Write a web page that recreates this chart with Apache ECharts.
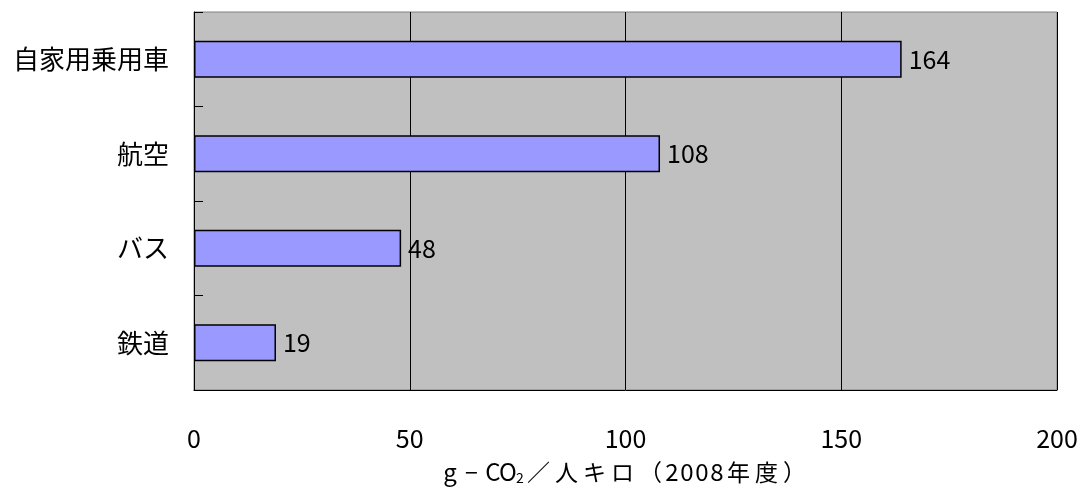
<!DOCTYPE html>
<html>
<head>
<meta charset="utf-8">
<script src="https://cdn.jsdelivr.net/npm/echarts@6/dist/echarts.min.js"></script>
<style>
  html, body { margin: 0; padding: 0; background: #fff; }
  #chart { width: 1080px; height: 490px; }
</style>
</head>
<body>
<div id="chart"></div>
<script>
// data
const categories = ['自家用乗用車', '航空', 'バス', '鉄道']
const values = [164, 108, 48, 19]
const xTicks = [0, 50, 100, 150, 200]

const font = '"Noto Sans CJK JP", "Noto Sans", sans-serif'

// axis title drawn in fixed-pitch cells, like the original gothic font
function mono(str) {
  return Array.from(str).map(c => (c.charCodeAt(0) > 0xff ? '{f|' + c + '}' : '{h|' + c + '}')).join('')
}
const axisTitle = mono('g−CO') + '{s|2}' + mono('／人キロ（2008年度）')

const chart = echarts.init(document.getElementById('chart'), null, { renderer: 'canvas' })

chart.setOption({
  animation: false,
  textStyle: { fontFamily: font },
  grid: {
    left: 194,
    right: 23,
    top: 12,
    bottom: 100,
    outerBoundsMode: 'none',
    containLabel: false,
    show: true,
    backgroundColor: '#C0C0C0',
    borderColor: '#808080',
    borderWidth: 1,
  },
  xAxis: {
    type: 'value',
    min: xTicks[0],
    max: xTicks[xTicks.length - 1],
    interval: 50,
    axisLine: { show: true, lineStyle: { color: '#000', width: 1 } },
    axisTick: { show: false },
    axisLabel: { color: '#000', fontSize: 25, margin: 36, fontFamily: font },
    splitLine: { show: true, lineStyle: { color: '#000', width: 1 } },
    name: axisTitle,
    nameLocation: 'middle',
    nameGap: 70,
    nameTextStyle: {
      rich: {
        h: { fontSize: 24, color: '#000', fontFamily: font, lineHeight: 24, width: 15, align: 'center' },
        f: { fontSize: 23, color: '#000', fontFamily: font, lineHeight: 24, width: 28, align: 'center' },
        s: { fontSize: 14, color: '#000', fontFamily: font, lineHeight: 24, width: 9, align: 'center', padding: [12, 0, 0, 0] },
      },
    },
  },
  yAxis: {
    type: 'category',
    data: categories,
    inverse: true,
    axisLine: { show: true, lineStyle: { color: '#000', width: 1 } },
    axisTick: { show: true, inside: true, length: 9, lineStyle: { color: '#000' } },
    axisLabel: { color: '#000', fontSize: 26, margin: 25, fontFamily: font },
    splitLine: { show: false },
  },
  series: [
    {
      type: 'bar',
      data: values,
      barWidth: '39%',
      itemStyle: { color: '#9999FF', borderColor: '#000', borderWidth: 1.5 },
      label: {
        show: true,
        position: 'right',
        distance: 7,
        color: '#000',
        fontSize: 25,
        fontFamily: font,
      },
    },
  ],
})
</script>
</body>
</html>
